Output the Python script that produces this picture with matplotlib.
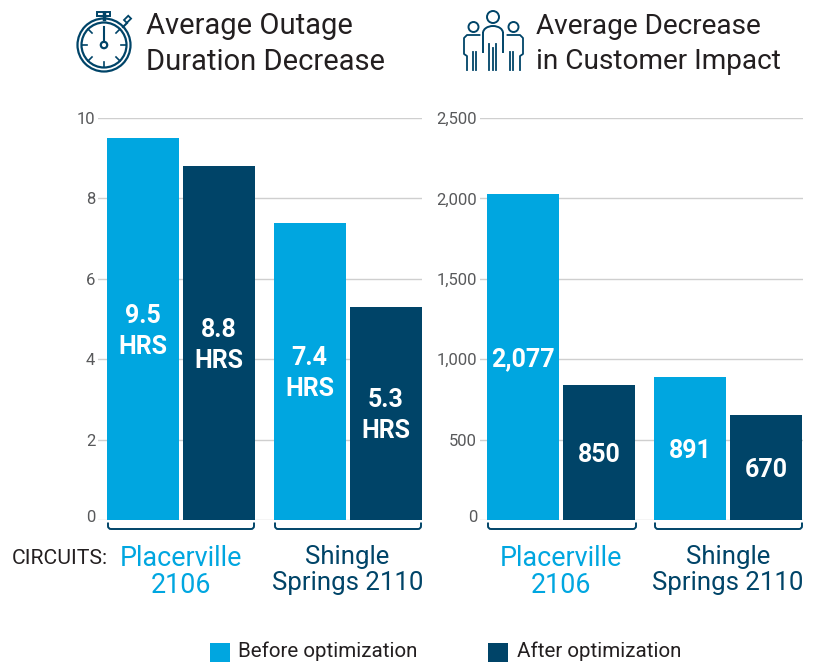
import matplotlib
matplotlib.use('Agg')
import matplotlib.pyplot as plt
from matplotlib.patches import Circle, Rectangle, Arc, PathPatch
from matplotlib.path import Path
from matplotlib.transforms import ScaledTranslation

plt.rcParams['font.family'] = ['Roboto', 'DejaVu Sans']

# data
circuits = ['Placerville\n2106', 'Shingle\nSprings 2110']
hours_before = [9.5, 7.4]
hours_after = [8.8, 5.3]
hours_labels_before = ['9.5\nHRS', '7.4\nHRS']
hours_labels_after = ['8.8\nHRS', '5.3\nHRS']
# bars in the original are drawn a bit off their printed numbers
customers_before = [2030, 889]
customers_after = [840, 653]
customers_labels_before = ['2,077', '891']
customers_labels_after = ['850', '670']
hours_ticks = [0, 2, 4, 6, 8, 10]
customers_ticks = [0, 500, 1000, 1500, 2000, 2500]
customers_ticklabels = ['0', '500', '1,000', '1,500', '2,000', '2,500']

LIGHT = '#00a6e0'
DARK = '#004468'
INK = '#231f20'
W, H = 817, 662

fig = plt.figure(figsize=(W / 100, H / 100), dpi=100)

# overlay in pixel coordinates for icons, brackets, headings and legend
over = fig.add_axes([0, 0, 1, 1], zorder=5)
over.set_xlim(0, W)
over.set_ylim(H, 0)
over.axis('off')
over.patch.set_alpha(0)


def make_axes(left, right, xlim):
    ax = fig.add_axes([left / W, 1 - 520 / H, (right - left) / W, 402 / H])
    ax.set_xlim(*xlim)
    for s in ax.spines.values():
        s.set_visible(False)
    ax.grid(axis='y', color='#cfcfcf', lw=1)
    ax.set_axisbelow(True)
    ax.tick_params(axis='y', length=0, pad=2, labelsize=12, labelcolor='#58595b')
    ax.tick_params(axis='x', length=0, pad=18, labelsize=19.4)
    return ax


def draw_chart(ax, before, after, labels_before, labels_after, size):
    xs = [0, 1]
    off = 0.228
    width = 0.432
    ax.bar([x - off for x in xs], before, width, color=LIGHT)
    ax.bar([x + off for x in xs], after, width, color=DARK)
    for x, b, a, lb, la in zip(xs, before, after, labels_before, labels_after):
        for xpos, val, lab in [(x - off, b, lb), (x + off, a, la)]:
            ax.annotate(lab, (xpos, val / 2), xytext=(0, -1.5), textcoords='offset points',
                        color='white', fontsize=size, fontweight='bold',
                        ha='center', va='center', linespacing=1.38)
    ax.set_xticks(xs)
    ax.set_xticklabels(circuits, linespacing=1.02)
    ax.get_xticklabels()[0].set_color(LIGHT)
    ax.get_xticklabels()[1].set_color(DARK)
    ax.get_xticklabels()[1].set_fontsize(18.5)
    ax.get_xticklabels()[1].set_linespacing(1.08)
    # zero label sits a little above its line
    zero = ax.get_yticklabels()[0]
    zero.set_transform(zero.get_transform() + ScaledTranslation(0, 4 / 100, fig.dpi_scale_trans))


ax1 = make_axes(98, 422, (-0.498, 1.447))
ax1.set_ylim(0, 10)
ax1.set_yticks(hours_ticks)
draw_chart(ax1, hours_before, hours_after, hours_labels_before, hours_labels_after, 18)

ax2 = make_axes(480, 803, (-0.486, 1.45))
ax2.set_ylim(0, 2500)
ax2.set_yticks(customers_ticks)
ax2.set_yticklabels(customers_ticklabels)
draw_chart(ax2, customers_before, customers_after, customers_labels_before, customers_labels_after, 18)


# brackets under the groups
def bracket(x0, x1):
    y0, y1, r = 522.5, 529, 3
    verts = [(x0, y0), (x0, y1 - r), (x0, y1), (x0 + r, y1), (x1 - r, y1), (x1, y1), (x1, y1 - r), (x1, y0)]
    codes = [Path.MOVETO, Path.LINETO, Path.CURVE3, Path.CURVE3, Path.LINETO, Path.CURVE3, Path.CURVE3, Path.LINETO]
    over.add_patch(PathPatch(Path(verts, codes), fc='none', ec=DARK, lw=1.4))


for x0, x1 in [(108, 254), (275, 421), (488, 636), (655, 802)]:
    bracket(x0, x1)

# headings
over.text(146, 26.5, 'Average Outage', fontsize=21, color=INK, va='center', ha='left')
over.text(146, 61.5, 'Duration Decrease', fontsize=21, color=INK, va='center', ha='left')
over.text(536, 26.5, 'Average Decrease', fontsize=20.2, color=INK, va='center', ha='left')
over.text(536, 61.5, 'in Customer Impact', fontsize=20.2, color=INK, va='center', ha='left')
over.text(12, 559, 'CIRCUITS:', fontsize=15.2, color=INK, va='center', ha='left')

# legend sits right on the bottom edge
over.add_patch(Rectangle((210, 643), 20, 19, fc=LIGHT, ec='none'))
over.text(238, 651, 'Before optimization', fontsize=14.8, color=INK, va='center', ha='left')
over.add_patch(Rectangle((488, 643), 20, 19, fc=DARK, ec='none'))
over.text(517, 651, 'After optimization', fontsize=14.8, color=INK, va='center', ha='left')

# stopwatch icon
cx, cy = 104, 45
over.add_patch(Circle((cx, cy), 26.5, fc='none', ec=DARK, lw=1.6))
over.add_patch(Circle((cx, cy), 22.5, fc='none', ec=DARK, lw=1.6))
over.add_patch(Circle((cx, cy), 3.2, fc='none', ec=DARK, lw=1.6))
over.plot([cx, cx], [27, 41.5], color=DARK, lw=1.5)
over.plot([cx, cx], [18.5, 12.5], color=DARK, lw=2.5)
over.add_patch(Rectangle((97.5, 11.5), 13, 4, fc='none', ec=DARK, lw=1.4))
over.plot([123, 127], [27, 23], color=DARK, lw=1.5)
over.add_patch(Rectangle((124, 20), 6, 4, angle=-45, fc='none', ec=DARK, lw=1.3))
for x0, y0, x1, y1 in [(104, 62, 104, 67), (82, 45, 87, 45), (121, 45, 126, 45),
                       (88, 29, 92, 33), (120, 29, 116, 33), (88, 61, 92, 57), (120, 61, 116, 57)]:
    over.plot([x0, x1], [y0, y1], color=DARK, lw=1.2)


# people icon
def person(cx, head_y, r, top, half, hip):
    over.add_patch(Circle((cx, head_y), r, fc='none', ec=DARK, lw=1.4))
    over.add_patch(Arc((cx, top + half * 0.7), 2 * half, 1.4 * half, theta1=180, theta2=360, ec=DARK, lw=1.4))
    over.plot([cx - half, cx - half], [top + half * 0.7, hip], color=DARK, lw=1.4)
    over.plot([cx + half, cx + half], [top + half * 0.7, hip], color=DARK, lw=1.4)


person(493, 17, 6, 26, 10, 52)
over.plot([489.5, 489.5], [44, 70], color=DARK, lw=1.3)
over.plot([496.5, 496.5], [44, 70], color=DARK, lw=1.3)
over.plot([493, 493], [48, 70], color=DARK, lw=1.3)
for cx, sign in [(473.5, -1), (513.5, 1)]:
    over.add_patch(Circle((cx, 27), 5, fc='none', ec=DARK, lw=1.4))
    outer = cx + sign * 9.5
    inner = cx - sign * 6
    over.plot([inner, outer - sign * 3, outer, outer, outer + sign * -3, outer + sign * -3],
              [35, 35, 38, 54, 56, 70], color=DARK, lw=1.3)
    over.plot([cx, cx], [52, 70], color=DARK, lw=1.3)
    over.plot([cx - sign * 3, cx - sign * 3], [52, 70], color=DARK, lw=1.3)

fig.savefig('out.png', dpi=100)
